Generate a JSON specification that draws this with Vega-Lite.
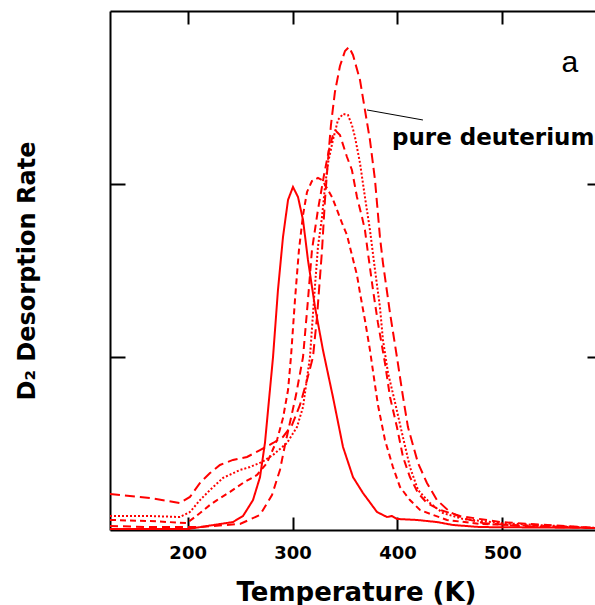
{
"$schema": "https://vega.github.io/schema/vega-lite/v6.json",
"width": 485, "height": 519,
"autosize": "none",
"padding": {"left": 110, "top": 11, "right": 0, "bottom": 75},
"config": {"view": {"stroke": null}, "font": "DejaVu Sans"},
"datasets": {
"curves": [
{"s":"solid","t":126,"r":0.006},{"s":"solid","t":200.3,"r":0.006},{"s":"solid","t":243.2,"r":0.046},{"s":"solid","t":252.8,"r":0.081},{"s":"solid","t":262.3,"r":0.173},{"s":"solid","t":269.0,"r":0.306},{"s":"solid","t":273.7,"r":0.503},{"s":"solid","t":281.4,"r":1.0},{"s":"solid","t":286.1,"r":1.387},{"s":"solid","t":290.9,"r":1.694},{"s":"solid","t":295.7,"r":1.908},{"s":"solid","t":300.4,"r":1.983},{"s":"solid","t":305.2,"r":1.925},{"s":"solid","t":310.0,"r":1.792},{"s":"solid","t":314.7,"r":1.561},{"s":"solid","t":321.4,"r":1.289},{"s":"solid","t":329.0,"r":1.04},{"s":"solid","t":338.5,"r":0.769},{"s":"solid","t":348.1,"r":0.48},{"s":"solid","t":357.6,"r":0.306},{"s":"solid","t":367.1,"r":0.214},{"s":"solid","t":380.5,"r":0.104},{"s":"solid","t":390.0,"r":0.075},{"s":"solid","t":394.8,"r":0.081},{"s":"solid","t":399.5,"r":0.064},{"s":"solid","t":418.6,"r":0.058},{"s":"solid","t":437.7,"r":0.046},{"s":"solid","t":452.9,"r":0.029},{"s":"solid","t":478.6,"r":0.017},{"s":"solid","t":588.3,"r":0.012},
{"s":"P","t":126,"r":0.208},{"s":"P","t":164.1,"r":0.185},{"s":"P","t":192.7,"r":0.156},{"s":"P","t":202.2,"r":0.191},{"s":"P","t":211.8,"r":0.272},{"s":"P","t":221.3,"r":0.329},{"s":"P","t":230.8,"r":0.376},{"s":"P","t":243.2,"r":0.405},{"s":"P","t":256.6,"r":0.422},{"s":"P","t":269.0,"r":0.462},{"s":"P","t":281.4,"r":0.503},{"s":"P","t":290.9,"r":0.538},{"s":"P","t":299.5,"r":0.607},{"s":"P","t":307.1,"r":0.723},{"s":"P","t":313.8,"r":0.867},{"s":"P","t":319.5,"r":1.0},{"s":"P","t":323.3,"r":1.231},{"s":"P","t":328.1,"r":1.618},{"s":"P","t":330.9,"r":1.908},{"s":"P","t":333.8,"r":2.139},{"s":"P","t":336.6,"r":2.341},{"s":"P","t":340.4,"r":2.532},{"s":"P","t":345.2,"r":2.682},{"s":"P","t":350.0,"r":2.769},{"s":"P","t":353.8,"r":2.792},{"s":"P","t":357.6,"r":2.746},{"s":"P","t":364.3,"r":2.601},{"s":"P","t":369.0,"r":2.428},{"s":"P","t":373.8,"r":2.254},{"s":"P","t":378.6,"r":2.023},{"s":"P","t":383.3,"r":1.694},{"s":"P","t":386.2,"r":1.543},{"s":"P","t":392.9,"r":1.254},{"s":"P","t":399.5,"r":1.0},{"s":"P","t":405.3,"r":0.769},{"s":"P","t":410.0,"r":0.595},{"s":"P","t":419.6,"r":0.387},{"s":"P","t":428.1,"r":0.272},{"s":"P","t":437.7,"r":0.173},{"s":"P","t":450.1,"r":0.104},{"s":"P","t":462.4,"r":0.069},{"s":"P","t":481.5,"r":0.04},{"s":"P","t":516.8,"r":0.023},{"s":"P","t":588.3,"r":0.012},
{"s":"C","t":126,"r":0.023},{"s":"C","t":164.1,"r":0.017},{"s":"C","t":211.8,"r":0.017},{"s":"C","t":249.9,"r":0.035},{"s":"C","t":269.0,"r":0.087},{"s":"C","t":280.4,"r":0.202},{"s":"C","t":288.0,"r":0.347},{"s":"C","t":292.8,"r":0.491},{"s":"C","t":296.6,"r":0.595},{"s":"C","t":303.3,"r":0.78},{"s":"C","t":310.0,"r":1.0},{"s":"C","t":314.7,"r":1.329},{"s":"C","t":318.5,"r":1.618},{"s":"C","t":324.2,"r":1.85},{"s":"C","t":330.0,"r":2.052},{"s":"C","t":334.7,"r":2.197},{"s":"C","t":338.5,"r":2.283},{"s":"C","t":341.4,"r":2.306},{"s":"C","t":345.2,"r":2.283},{"s":"C","t":351.9,"r":2.156},{"s":"C","t":356.6,"r":2.081},{"s":"C","t":361.4,"r":1.925},{"s":"C","t":366.2,"r":1.809},{"s":"C","t":369.0,"r":1.734},{"s":"C","t":371.9,"r":1.601},{"s":"C","t":376.7,"r":1.387},{"s":"C","t":381.4,"r":1.197},{"s":"C","t":388.1,"r":0.965},{"s":"C","t":392.9,"r":0.769},{"s":"C","t":399.5,"r":0.595},{"s":"C","t":405.3,"r":0.422},{"s":"C","t":411.9,"r":0.306},{"s":"C","t":419.6,"r":0.214},{"s":"C","t":428.1,"r":0.156},{"s":"C","t":440.5,"r":0.116},{"s":"C","t":459.6,"r":0.081},{"s":"C","t":497.7,"r":0.046},{"s":"C","t":588.3,"r":0.012},
{"s":"D","t":126,"r":0.058},{"s":"D","t":164.1,"r":0.052},{"s":"D","t":199.4,"r":0.04},{"s":"D","t":211.8,"r":0.098},{"s":"D","t":221.3,"r":0.145},{"s":"D","t":228.0,"r":0.173},{"s":"D","t":240.4,"r":0.22},{"s":"D","t":252.8,"r":0.272},{"s":"D","t":266.1,"r":0.318},{"s":"D","t":275.6,"r":0.387},{"s":"D","t":285.2,"r":0.52},{"s":"D","t":290.9,"r":0.647},{"s":"D","t":295.7,"r":0.809},{"s":"D","t":298.5,"r":1.0},{"s":"D","t":302.3,"r":1.329},{"s":"D","t":306.1,"r":1.618},{"s":"D","t":310.0,"r":1.821},{"s":"D","t":313.8,"r":1.954},{"s":"D","t":318.5,"r":2.017},{"s":"D","t":324.2,"r":2.035},{"s":"D","t":328.1,"r":2.023},{"s":"D","t":332.8,"r":1.977},{"s":"D","t":337.6,"r":1.925},{"s":"D","t":342.4,"r":1.85},{"s":"D","t":347.1,"r":1.775},{"s":"D","t":351.9,"r":1.705},{"s":"D","t":356.6,"r":1.59},{"s":"D","t":361.4,"r":1.474},{"s":"D","t":364.3,"r":1.37},{"s":"D","t":369.0,"r":1.214},{"s":"D","t":373.8,"r":1.04},{"s":"D","t":378.6,"r":0.838},{"s":"D","t":381.4,"r":0.723},{"s":"D","t":388.1,"r":0.52},{"s":"D","t":395.7,"r":0.364},{"s":"D","t":402.4,"r":0.249},{"s":"D","t":411.9,"r":0.173},{"s":"D","t":421.5,"r":0.116},{"s":"D","t":433.9,"r":0.087},{"s":"D","t":447.2,"r":0.058},{"s":"D","t":478.6,"r":0.035},{"s":"D","t":588.3,"r":0.012},
{"s":"B","t":126,"r":0.081},{"s":"B","t":164.1,"r":0.081},{"s":"B","t":192.7,"r":0.075},{"s":"B","t":202.2,"r":0.104},{"s":"B","t":211.8,"r":0.173},{"s":"B","t":221.3,"r":0.231},{"s":"B","t":233.7,"r":0.301},{"s":"B","t":249.9,"r":0.347},{"s":"B","t":259.4,"r":0.364},{"s":"B","t":270.9,"r":0.393},{"s":"B","t":281.4,"r":0.434},{"s":"B","t":294.7,"r":0.503},{"s":"B","t":304.2,"r":0.595},{"s":"B","t":310.0,"r":0.711},{"s":"B","t":316.6,"r":1.0},{"s":"B","t":320.4,"r":1.329},{"s":"B","t":324.2,"r":1.636},{"s":"B","t":328.1,"r":1.809},{"s":"B","t":330.9,"r":1.983},{"s":"B","t":333.8,"r":2.121},{"s":"B","t":338.5,"r":2.254},{"s":"B","t":343.3,"r":2.37},{"s":"B","t":348.1,"r":2.405},{"s":"B","t":352.8,"r":2.399},{"s":"B","t":356.6,"r":2.341},{"s":"B","t":359.5,"r":2.272},{"s":"B","t":364.3,"r":2.121},{"s":"B","t":369.0,"r":1.925},{"s":"B","t":373.8,"r":1.734},{"s":"B","t":378.6,"r":1.503},{"s":"B","t":383.3,"r":1.289},{"s":"B","t":386.2,"r":1.098},{"s":"B","t":391.0,"r":0.908},{"s":"B","t":397.6,"r":0.74},{"s":"B","t":404.3,"r":0.561},{"s":"B","t":411.9,"r":0.364},{"s":"B","t":419.6,"r":0.231},{"s":"B","t":431.0,"r":0.156},{"s":"B","t":443.4,"r":0.098},{"s":"B","t":462.4,"r":0.064},{"s":"B","t":497.7,"r":0.04},{"s":"B","t":588.3,"r":0.012}
]
},
"layer": [
{
"data": {"name": "curves"},
"mark": {"type": "line", "clip": true, "color": "#ff0000"},
"encoding": {
"x": {"field": "t", "type": "quantitative",
"scale": {"domain": [126, 588.3], "nice": false, "zero": false},
"axis": {"values": [200, 300, 400, 500], "title": "Temperature (K)", "grid": false,
"tickSize": -13, "tickWidth": 2, "tickColor": "black", "domainColor": "black", "domainWidth": 2,
"labelFont": "DejaVu Sans", "labelFontWeight": "bold", "labelFontSize": 18, "labelColor": "black", "labelPadding": 27, "labelFlush": false,
"titleFont": "DejaVu Sans", "titleFontSize": 26, "titleFontWeight": "bold", "titleColor": "black", "titleY": 70, "titleX": 246, "titleBaseline": "alphabetic"}},
"y": {"field": "r", "type": "quantitative",
"scale": {"domain": [0, 3], "nice": false, "zero": false},
"axis": {"values": [1, 2], "title": "D₂ Desorption Rate", "labels": false, "grid": false,
"tickSize": -15, "tickWidth": 2, "tickColor": "black", "domainColor": "black", "domainWidth": 2,
"titleFont": "DejaVu Sans", "titleFontSize": 24, "titleFontWeight": "bold", "titleColor": "black", "titleX": -76, "titleY": 259.5, "titleBaseline": "alphabetic"}},
"detail": {"field": "s", "type": "nominal"},
"strokeDash": {"field": "s", "type": "nominal", "scale": {"domain": ["solid", "P", "C", "D", "B"], "range": [[1, 0], [10, 5], [8, 5], [6, 4], [2, 2]]}, "legend": null},
"strokeWidth": {"field": "s", "type": "ordinal", "scale": {"domain": ["solid", "P", "C", "D", "B"], "range": [2, 2, 2, 2, 1.5]}, "legend": null}
}
},
{
"data": {"values": [{"t": 371.0, "r": 2.428, "t2": 424.3, "r2": 2.37}]},
"mark": {"type": "rule", "color": "black", "strokeWidth": 1},
"encoding": {
"x": {"field": "t", "type": "quantitative", "scale": {"domain": [126, 588.3], "nice": false, "zero": false},
"axis": {"orient": "top", "values": [200, 300, 400, 500], "labels": false, "title": null, "grid": false,
"tickSize": -13, "tickWidth": 2, "tickColor": "black", "domainColor": "black", "domainWidth": 2}},
"y": {"field": "r", "type": "quantitative", "scale": {"domain": [0, 3], "nice": false, "zero": false},
"axis": {"orient": "right", "values": [1, 2], "labels": false, "title": null, "grid": false, "domain": false,
"tickSize": -8, "tickWidth": 2, "tickColor": "black"}},
"x2": {"field": "t2"},
"y2": {"field": "r2"}
}
},
{
"data": {"values": [{"t": 394.8, "r": 2.225, "label": "pure deuterium"}]},
"mark": {"type": "text", "align": "left", "baseline": "alphabetic", "fontSize": 23, "fontWeight": "bold", "font": "DejaVu Sans", "color": "black"},
"encoding": {
"x": {"field": "t", "type": "quantitative", "axis": null},
"y": {"field": "r", "type": "quantitative", "axis": null},
"text": {"field": "label"}
}
},
{
"data": {"values": [{"t": 564.4, "r": 2.647, "label": "a"}]},
"mark": {"type": "text", "align": "center", "baseline": "alphabetic", "fontSize": 30, "font": "Liberation Sans", "color": "black"},
"encoding": {
"x": {"field": "t", "type": "quantitative", "axis": null},
"y": {"field": "r", "type": "quantitative", "axis": null},
"text": {"field": "label"}
}
}
],
"resolve": {"axis": {"x": "independent", "y": "independent"}}
}
